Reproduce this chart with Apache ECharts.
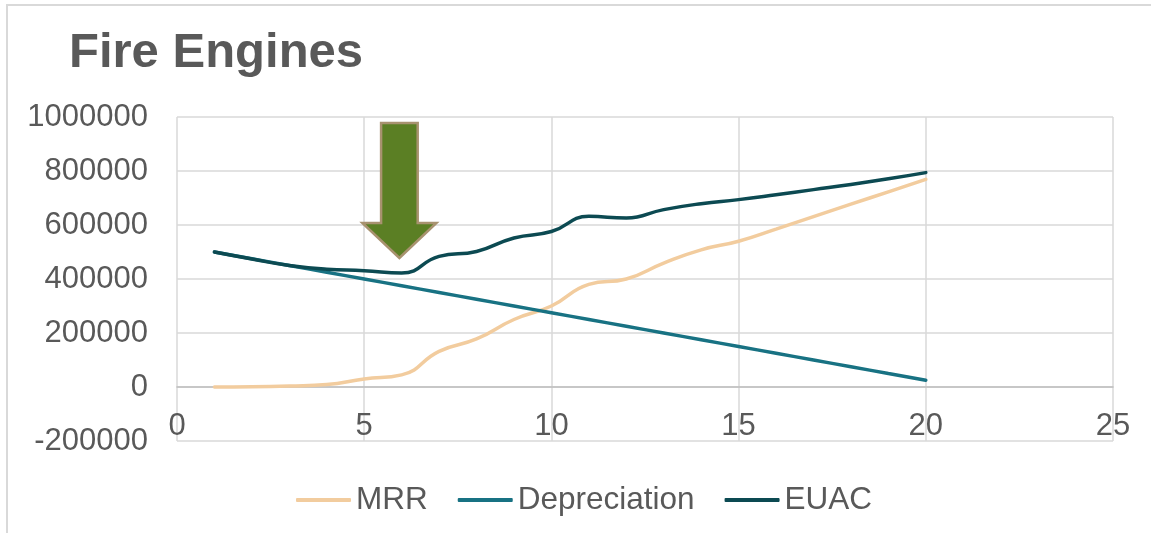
<!DOCTYPE html>
<html>
<head>
<meta charset="utf-8">
<script src="https://cdn.jsdelivr.net/npm/echarts@6/dist/echarts.min.js"></script>
<style>
html,body{margin:0;padding:0;background:#fff;}
#chart{width:1151px;height:533px;}
</style>
</head>
<body>
<div id="chart"></div>
<script>
const years = [1,2,3,4,5,6,7,8,9,10,11,12,13,14,15,16,17,18,19,20];
const mrr = [0,1000,4000,9000,30000,45000,132000,178000,250000,300000,380000,400000,459000,508000,540000,585000,631000,677000,723000,769000];
const depreciation = [500000,475000,450000,425000,400000,375000,350000,325000,300000,275000,250000,225000,200000,175000,150000,125000,100000,75000,50000,25000];
const euac = [500000,474000,450000,436000,431000,422000,484000,502000,552000,576000,632000,626000,657000,679000,694000,712000,731000,750000,771000,794000];
const seriesNames = ['MRR','Depreciation','EUAC'];
const xTicks = {min:0, max:25, interval:5};
const yTicks = {min:-200000, max:1000000, interval:200000};

const FONT = "'Liberation Sans', Arial, sans-serif";
const TXT = '#595959';
const GRID = '#d9d9d9';
const colors = ['#F2CC9E','#187283','#0C4A52'];

const chart = echarts.init(document.getElementById('chart'), null, {renderer:'canvas'});
const pair = arr => years.map((y,i)=>[y, arr[i]]);
const option = {
  animation:false,
  backgroundColor:'#fff',
  title:{text:'Fire Engines', left:64, top:24,
    textStyle:{fontFamily:FONT, fontSize:49, fontWeight:'bold', color:TXT}},
  grid:{left:177, right:38, top:117, bottom:92, containLabel:false},
  legend:{
    data:seriesNames, left:291, top:479, itemWidth:55, itemHeight:4, itemGap:30,
    icon:'roundRect',
    textStyle:{fontFamily:FONT, fontSize:31.5, color:TXT, padding:[0,0,0,0]}
  },
  xAxis:{
    type:'value', min:xTicks.min, max:xTicks.max, interval:xTicks.interval,
    position:'bottom', offset:-54,
    axisLine:{show:true, onZero:false, lineStyle:{color:'#bfbfbf', width:1.5}},
    axisTick:{show:false},
    axisLabel:{fontFamily:FONT, fontSize:31, color:TXT, margin:24},
    splitLine:{show:true, lineStyle:{color:GRID, width:1.5}}
  },
  yAxis:{
    type:'value', min:yTicks.min, max:yTicks.max, interval:yTicks.interval,
    axisLine:{show:false}, axisTick:{show:false},
    axisLabel:{fontFamily:FONT, fontSize:31, color:TXT, margin:29, formatter:v=>String(v)},
    splitLine:{show:true, lineStyle:{color:GRID, width:1.5}}
  },
  series:[
    {name:seriesNames[0], type:'line', data:pair(mrr), smooth:0.5, symbol:'none',
     lineStyle:{color:colors[0], width:3.5, cap:'round'}, itemStyle:{color:colors[0]}, z:2},
    {name:seriesNames[1], type:'line', data:pair(depreciation), smooth:0.5, symbol:'none',
     lineStyle:{color:colors[1], width:3.5, cap:'round'}, itemStyle:{color:colors[1]}, z:3},
    {name:seriesNames[2], type:'line', data:pair(euac), smooth:0.5, symbol:'none',
     lineStyle:{color:colors[2], width:3.5, cap:'round'}, itemStyle:{color:colors[2]}, z:4}
  ]
};
chart.setOption(option);

// Decorations: outer chart border and the green arrow annotation
const tip = chart.convertToPixel({gridIndex:0}, [5.94, 478000]);
const tx = tip[0], ty = tip[1];
chart.setOption({
  graphic:[
    {type:'rect', shape:{x:7, y:5, width:1170, height:560}, style:{fill:'none', stroke:'#d9d9d9', lineWidth:2}, silent:true, z:0},
    {type:'polygon', z:100,
     shape:{points:[
       [tx-18.3, ty-135],[tx+18.3, ty-135],[tx+18.3, ty-35],[tx+37, ty-35],
       [tx, ty],[tx-37, ty-35],[tx-18.3, ty-35]
     ]},
     style:{fill:'#5B7F24', stroke:'#A8926F', lineWidth:2.5}}
  ]
});
</script>
</body>
</html>
